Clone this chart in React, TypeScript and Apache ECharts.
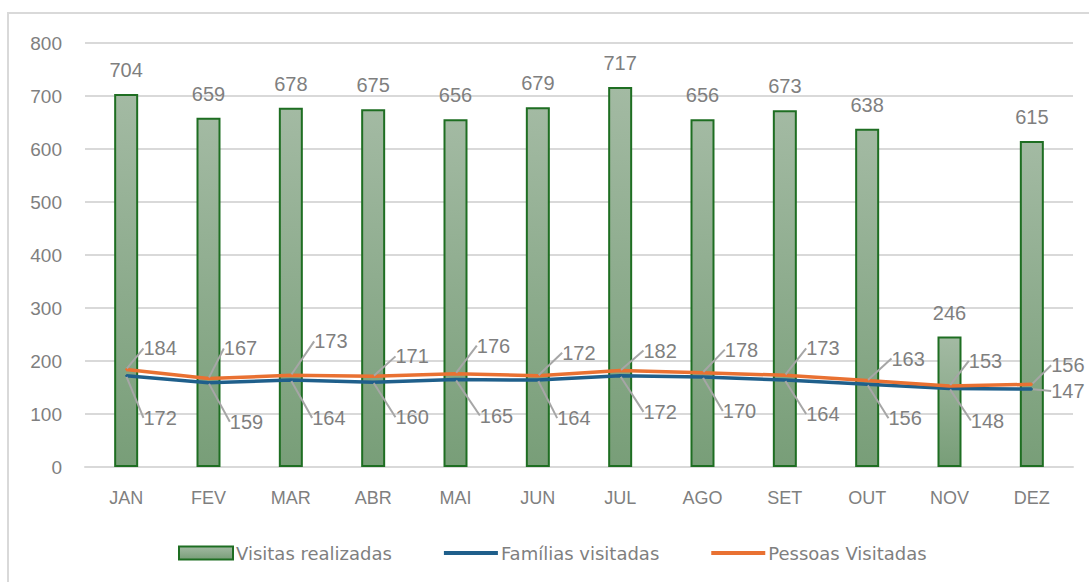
import React, { useEffect, useRef } from "react";
import * as echarts from "echarts";

const months = ["JAN", "FEV", "MAR", "ABR", "MAI", "JUN", "JUL", "AGO", "SET", "OUT", "NOV", "DEZ"];
const visitas = [704, 659, 678, 675, 656, 679, 717, 656, 673, 638, 246, 615];
const familias = [172, 159, 164, 160, 165, 164, 172, 170, 164, 156, 148, 147];
const pessoas = [184, 167, 173, 171, 176, 172, 182, 178, 173, 163, 153, 156];
const yTicks = [0, 100, 200, 300, 400, 500, 600, 700, 800];

// label offsets (layout only) relative to the data point
const pessoasOffsets: [number, number][] = [
  [34, -21], [32, -30], [40, -34], [39, -20], [38, -28], [41, -23],
  [40, -20], [39, -23], [38, -27], [41, -22], [36, -25], [36, -19],
];
const familiasOffsets: [number, number][] = [
  [34, 42], [38, 39], [38, 38], [39, 35], [41, 36], [36, 38],
  [40, 36], [37, 34], [38, 34], [38, 34], [38, 32], [36, 2],
];

const FONT = "Liberation Sans";
const GRAY = "#7f7f7f";
const LINE_ICON = "path://M0,0L54,0L54,4L0,4Z";

export default function App() {
  const ref = useRef<HTMLDivElement>(null);
  useEffect(() => {
    document.body.style.margin = "0";
    if (!ref.current) return;
    const chart = echarts.init(ref.current, undefined, { renderer: "svg" });
    const makeLayout = (offs: [number, number][]) => (params: any) => {
      const r = params.rect;
      const o = offs[params.dataIndex];
      return {
        x: r.x + r.width / 2 + o[0],
        y: r.y + r.height / 2 + o[1],
        align: "center",
        verticalAlign: "middle",
      };
    };
    const lineLabel = {
      show: true,
      color: GRAY,
      fontSize: 20,
      fontFamily: FONT,
    };
    chart.setOption({
      animation: false,
      backgroundColor: "#ffffff",
      graphic: [
        {
          type: "rect",
          shape: { x: 8, y: 13, width: 1100, height: 600 },
          style: { fill: "none", stroke: "#d9d9d9", lineWidth: 2 },
          silent: true,
        },
      ],
      grid: { left: 85, right: 16, top: 43, bottom: 115, containLabel: false },
      legend: {
        left: 178,
        top: 544,
        padding: 0,
        itemWidth: 54,
        itemHeight: 13,
        itemGap: 52,
        textStyle: { color: GRAY, fontSize: 18, fontFamily: "DejaVu Sans", padding: [0, 0, 0, -2] },
        data: [
          { name: "Visitas realizadas", icon: "rect" },
          { name: "Famílias visitadas", icon: LINE_ICON, itemStyle: { color: "#1f5f8b" } },
          { name: "Pessoas Visitadas", icon: LINE_ICON, itemStyle: { color: "#e97132" } },
        ],
      },
      xAxis: {
        type: "category",
        data: months,
        axisTick: { show: false },
        axisLine: { lineStyle: { color: "#d9d9d9", width: 2 } },
        axisLabel: { color: GRAY, fontSize: 18, fontFamily: FONT, margin: 22 },
      },
      yAxis: {
        type: "value",
        min: yTicks[0],
        max: yTicks[yTicks.length - 1],
        interval: 100,
        axisLine: { show: false },
        axisTick: { show: false },
        splitLine: { lineStyle: { color: "#d9d9d9", width: 2 } },
        axisLabel: { color: GRAY, fontSize: 19, fontFamily: FONT, margin: 23 },
      },
      series: [
        {
          name: "Visitas realizadas",
          type: "bar",
          data: visitas,
          barWidth: 24,
          itemStyle: {
            color: new echarts.graphic.LinearGradient(0, 0, 0, 1, [
              { offset: 0, color: "#a3baa3" },
              { offset: 1, color: "#789e78" },
            ]),
            borderColor: "#1e6e22",
            borderWidth: 2,
          },
          label: {
            show: true,
            position: "top",
            distance: 14,
            color: GRAY,
            fontSize: 20,
            fontFamily: FONT,
          },
          z: 1,
        },
        {
          name: "Famílias visitadas",
          type: "line",
          data: familias,
          symbol: "circle",
          symbolSize: 2,
          itemStyle: { color: "#1f5f8b" },
          lineStyle: { color: "#1f5f8b", width: 3.5 },
          label: lineLabel,
          labelLine: { show: true, lineStyle: { color: "#a6a6a6", width: 2 } },
          labelLayout: makeLayout(familiasOffsets),
          z: 3,
        },
        {
          name: "Pessoas Visitadas",
          type: "line",
          data: pessoas,
          symbol: "circle",
          symbolSize: 2,
          itemStyle: { color: "#e97132" },
          lineStyle: { color: "#e97132", width: 3.5 },
          label: lineLabel,
          labelLine: { show: true, lineStyle: { color: "#a6a6a6", width: 2 } },
          labelLayout: makeLayout(pessoasOffsets),
          z: 4,
        },
      ],
    });
    return () => chart.dispose();
  }, []);
  return <div ref={ref} style={{ width: 1089, height: 582 }} />;
}
